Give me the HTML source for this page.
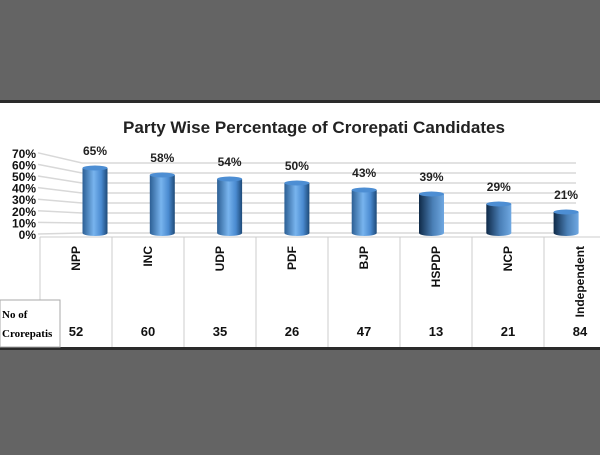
<!DOCTYPE html>
<html><head><meta charset="utf-8"><style>
body{margin:0;width:600px;height:450px;background:#646464;overflow:hidden;font-family:"Liberation Sans",sans-serif}
</style></head><body>
<svg width="600" height="450">
<defs>
<linearGradient id="cyl" x1="0" x2="1" y1="0" y2="0">
<stop offset="0" stop-color="#2c5f94"/><stop offset="0.45" stop-color="#78b4ee"/><stop offset="0.75" stop-color="#4a8ad0"/><stop offset="1" stop-color="#1e4a78"/></linearGradient>
<linearGradient id="cyl2" x1="0" x2="1"><stop offset="0" stop-color="#0f2a48"/><stop offset="0.55" stop-color="#4a7fb6"/><stop offset="1" stop-color="#6fa8e2"/></linearGradient>
</defs>
<rect x="0" y="100" width="600" height="250" fill="#2a2a2a"/>
<rect x="0" y="103" width="600" height="244" fill="#fff"/>
<text x="314" y="133" font-size="17" font-weight="bold" text-anchor="middle" fill="#222" textLength="382" lengthAdjust="spacingAndGlyphs">Party Wise Percentage of Crorepati Candidates</text>
<g id="grid"></g><g id="bars"></g><g id="table"></g>
<rect x="0" y="300" width="60" height="47" fill="#fff" stroke="#aaa"/>
<text x="2" y="318" font-family="Liberation Serif" font-size="11" font-weight="bold">No of</text>
<text x="2" y="337" font-family="Liberation Serif" font-size="11" font-weight="bold">Crorepatis</text>
</svg>
<script>
const categories=["NPP","INC","UDP","PDF","BJP","HSPDP","NCP","Independent"];
const percentValues=[65,58,54,50,43,39,29,21];
const crorepatiCounts=[52,60,35,26,47,13,21,84];
const tickLabels=["0%","10%","20%","30%","40%","50%","60%","70%"];
const NS="http://www.w3.org/2000/svg";
function mk(t,a,p){const e=document.createElementNS(NS,t);for(const k in a)e.setAttribute(k,a[k]);p.appendChild(e);return e;}
const base=233,unit=1.0;
const y=v=>base-v*unit;
const yl=v=>238-v*1.16;
const bx=i=>95+i*67.3;
const colX=i=>40+i*72;
const g=document.getElementById('grid');
tickLabels.forEach((t,i)=>{const v=i*10;
 const l=mk('polyline',{points:`38,${yl(v)-4} 82,${y(v)} 576,${y(v)}`,fill:'none',stroke:'#d8d8d8','stroke-width':1.5},g);
 
 
 const tx=mk('text',{x:36,y:yl(v)+1,'text-anchor':'end','font-size':12,'font-weight':'bold',fill:'#111'},g);
 tx.textContent=t;
 
 
});
const b=document.getElementById('bars');
percentValues.forEach((v,i)=>{const x=bx(i),w=25;
 const r=mk('path',{d:`M${x-w/2},${y(v)} L${x-w/2},${base} A${w/2},3 0 0 0 ${x+w/2},${base} L${x+w/2},${y(v)} Z`,fill:i>=5?'url(#cyl2)':'url(#cyl)'},b);
 
 
 const c=mk('ellipse',{cx:x,cy:y(v),rx:w/2,ry:2.5,fill:'#4d8ed3'},b);
 
 
 const t=mk('text',{x:x,y:y(v)-13,'text-anchor':'middle','font-size':12,'font-weight':'bold',fill:'#222'},b);
 t.textContent=v+'%';
 
 
});
const tb=document.getElementById('table');
const hl=mk('line',{x1:40,y1:237,x2:600,y2:237,stroke:'#ccc'},tb);


for(let i=0;i<=categories.length;i++){const l=mk('line',{x1:colX(i),y1:237,x2:colX(i),y2:347,stroke:'#ccc'},tb);
 
 }
categories.forEach((c,i)=>{const cx=colX(i)+36;
 const t=mk('text',{x:0,y:0,'font-size':12,'font-weight':'bold',fill:'#111',transform:`translate(${cx+4},${246}) rotate(-90)`,'text-anchor':'end'},tb);
 t.textContent=c;
 
 
 const n=mk('text',{x:cx,y:336,'text-anchor':'middle','font-size':13,'font-weight':'bold',fill:'#111'},tb);
 n.textContent=crorepatiCounts[i];
 
 
});
</script>
</body></html>
